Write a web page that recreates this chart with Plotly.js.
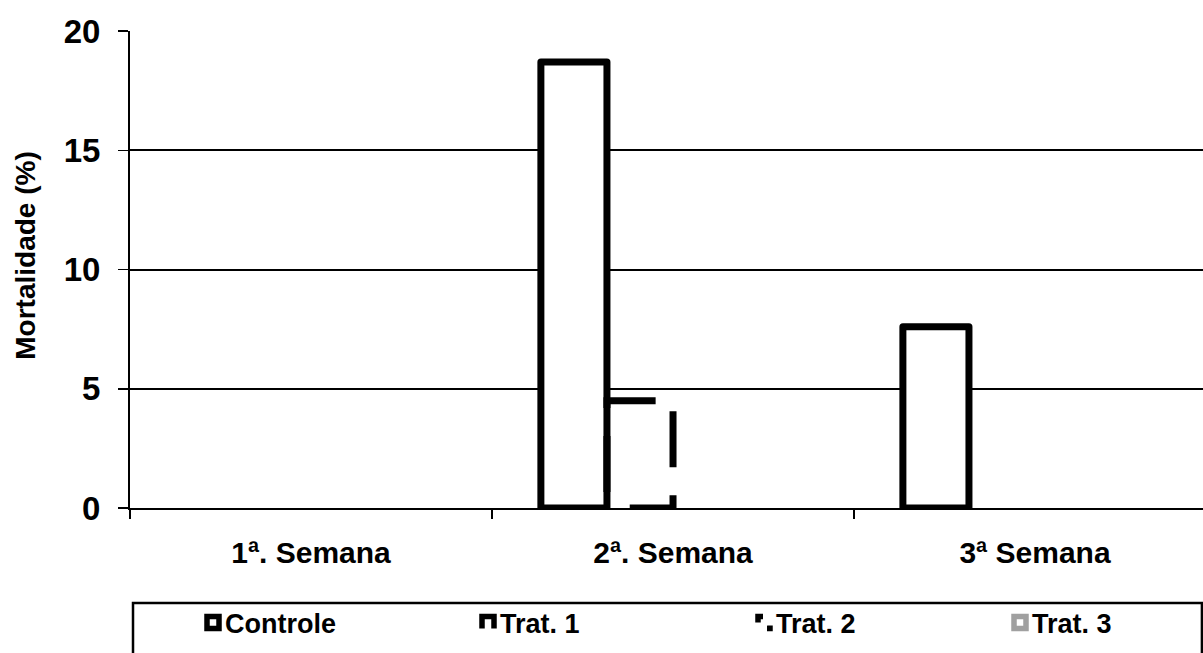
<!DOCTYPE html>
<html>
<head>
<meta charset="utf-8">
<script src="https://cdn.plot.ly/plotly-3.0.1.min.js"></script>
<style>html,body{margin:0;padding:0;background:#fff;overflow:hidden}#chart{width:1203px;height:653px}</style>
</head>
<body>
<div id="chart"></div>
<script>
const categories = ["1ª. Semana", "2ª. Semana", "3ª Semana"];
const seriesNames = ["Controle", "Trat. 1", "Trat. 2", "Trat. 3"];
const controle = [0, 18.7, 7.6];
const trat1 = [0, 4.5, 0];
const trat2 = [0, 0, 0];
const trat3 = [0, 0, 0];
const yTicks = [0, 5, 10, 15, 20];

const seriesValues = [controle, trat1, trat2, trat3];
const lineColors = ["#000000", "#000000", "#000000", "#a0a0a0"];
const fillColors = ["#ffffff", "rgba(255,255,255,0)", "#ffffff", "#ffffff"];
const FONT = "Liberation Sans, Arial, sans-serif";

const traces = seriesValues.map((vals, i) => ({
  type: "bar",
  name: seriesNames[i],
  x: categories,
  y: vals,
  marker: {color: fillColors[i], line: {color: lineColors[i], width: vals.map(v => v > 0 ? 7 : 0)}},
  hoverinfo: "x+y+name"
}));

const layout = {
  width: 1203,
  height: 653,
  margin: {l: 130, r: 0, t: 31, b: 145, autoexpand: false},
  paper_bgcolor: "#fff",
  plot_bgcolor: "#fff",
  barmode: "group",
  bargap: 0.27,
  bargroupgap: 0,
  font: {family: FONT, color: "#000", weight: "bold"},
  xaxis: {
    type: "category",
    range: [-0.5, 2.464],
    showline: true, linecolor: "#000", linewidth: 2,
    ticks: "outside", tickson: "boundaries", ticklen: 9, tickwidth: 1.5, tickcolor: "#000",
    tickfont: {family: FONT, size: 30, color: "#000", weight: "bold"},
    ticklabelstandoff: 17,
    showgrid: false, zeroline: false, automargin: false
  },
  yaxis: {
    range: [0, 20],
    tickvals: yTicks,
    ticktext: yTicks.map(String),
    showline: true, linecolor: "#000", linewidth: 2,
    ticks: "outside", ticklen: 10, tickwidth: 1.5, tickcolor: "#000",
    tickfont: {family: FONT, size: 33, color: "#000", weight: "bold"},
    ticklabelstandoff: 11,
    showgrid: true, gridcolor: "#000", gridwidth: 2,
    zeroline: false, automargin: false,
    title: {text: "Mortalidade (%)", font: {family: FONT, size: 28, color: "#000", weight: "bold"}, standoff: 20}
  },
  showlegend: true,
  legend: {
    orientation: "h",
    x: 0, xanchor: "left",
    y: -0.245, yanchor: "middle",
    entrywidth: 200, entrywidthmode: "pixels",
    itemwidth: 30,
    bgcolor: "rgba(0,0,0,0)", borderwidth: 0,
    font: {family: FONT, size: 27, color: "#000", weight: "bold"},
    traceorder: "normal"
  },
  shapes: [{
    type: "rect", xref: "paper", yref: "paper",
    x0: 0.0028, x1: 0.999, y0: -0.1992, y1: -0.34,
    line: {color: "#000", width: 2.5}, fillcolor: "rgba(0,0,0,0)", layer: "above"
  }]
};

// legend symbol centre targets (px) and vertical text centre
const legendSymbolX = [211, 486, 762, 1018];
const legendCenterY = 624;

Plotly.newPlot("chart", traces, layout, {staticPlot: true}).then(gd => {
  const barTraces = gd.querySelectorAll(".barlayer .trace");
  barTraces.forEach(t => t.querySelectorAll("path").forEach(p => { p.style.strokeLinejoin = "round"; }));
  if (barTraces[1]) {
    barTraces[1].querySelectorAll("path").forEach(p => {
      p.style.strokeDasharray = "56px,28px";
      p.style.strokeDashoffset = "68px";
      p.style.strokeLinejoin = "miter";
    });
  }
  const legend = gd.querySelector(".legend");
  if (legend) {
    legend.querySelectorAll("[clip-path]").forEach(el => el.removeAttribute("clip-path"));
  }
  const legendDash = [null, "0,12,36", "3,15,11,16,3", null];
  const items = gd.querySelectorAll(".legend .traces");
  items.forEach((tr, i) => {
    const pts = tr.querySelector(".legendpoints");
    if (pts) pts.setAttribute("transform", "translate(8,0)");
    tr.querySelectorAll(".legendpoints path").forEach(p => {
      p.setAttribute("d", "M6,6H-6V-6H6Z");
      p.style.stroke = lineColors[i];
      p.style.strokeOpacity = "1";
      p.style.strokeWidth = "5.5px";
      p.style.fill = "#ffffff";
      p.style.fillOpacity = "1";
      if (legendDash[i]) p.style.strokeDasharray = legendDash[i];
    });
  });
  const host = gd.getBoundingClientRect();
  items.forEach((tr, i) => {
    const txt = tr.querySelector("text");
    if (!txt) return;
    const tb = txt.getBoundingClientRect();
    // text starts 14px right of the symbol centre
    const dx = (legendSymbolX[i] + 14) - (tb.left - host.left);
    const dy = legendCenterY - (tb.top + tb.height / 2 - host.top);
    const m = /translate\(\s*([-\d.]+)[ ,]+([-\d.]+)/.exec(tr.getAttribute("transform") || "");
    const tx = m ? parseFloat(m[1]) : 0, ty = m ? parseFloat(m[2]) : 0;
    tr.setAttribute("transform", `translate(${tx + dx},${ty + dy})`);
  });
  const yt = gd.querySelector(".g-ytitle");
  if (yt) yt.setAttribute("transform", "translate(0,-14)");
});
</script>
</body>
</html>
